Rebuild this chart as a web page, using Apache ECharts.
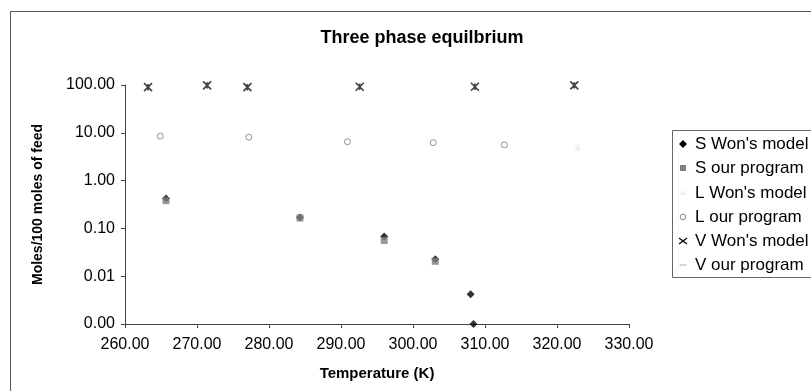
<!DOCTYPE html>
<html><head><meta charset="utf-8">
<script src="https://cdn.jsdelivr.net/npm/echarts@6/dist/echarts.min.js"></script>
<style>html,body{margin:0;padding:0;background:#fff;}#c{width:811px;height:391px;}</style>
</head><body><div id="c"></div>
<script>
var xTicks = [260, 270, 280, 290, 300, 310, 320, 330];
var yTicks = [0.001, 0.01, 0.1, 1, 10, 100];
var seriesNames = ["S Won's model", 'S our program', "L Won's model", 'L our program', "V Won's model", 'V our program'];
var sWon = [[265.7, 0.42], [284.3, 0.17], [296.0, 0.068], [303.1, 0.0226], [308.0, 0.0042], [308.4, 0.001]];
var sOur = [[265.7, 0.38], [284.3, 0.165], [296.0, 0.056], [303.1, 0.0205]];
var lWon = [[322.9, 5.0]];
var lOur = [[264.9, 8.5], [277.2, 8.1], [290.9, 6.5], [302.8, 6.2], [312.7, 5.6]];
var vWon = [[263.2, 90], [271.4, 98], [277.0, 90], [292.6, 92], [308.6, 92], [322.4, 98]];
var vOur = [[263.2, 90], [271.4, 98], [277.0, 90], [292.6, 92], [308.6, 92], [322.4, 98]];

var star = 'path://M0,0L10,10M10,0L0,10M5,1L5,9';
var dash = 'path://M0,5L10,5';
var font = 'Liberation Sans, Arial, sans-serif';

// legend drawn as graphic elements
var legX = 683, legText = 695, legY = [144, 168, 193, 217, 241, 265];
var legendGraphics = [
  {type: 'rect', shape: {x: 672.5, y: 130.5, width: 200, height: 147}, style: {fill: '#fff', stroke: '#666', lineWidth: 1}, z: 1},
  {type: 'polygon', shape: {points: [[legX, legY[0] - 4], [legX + 4, legY[0]], [legX, legY[0] + 4], [legX - 4, legY[0]]]}, style: {fill: '#000'}, z: 2},
  {type: 'rect', shape: {x: legX - 3, y: legY[1] - 3, width: 6, height: 6}, style: {fill: '#808080'}, z: 2},
  {type: 'polygon', shape: {points: [[legX, legY[2] - 3], [legX + 3, legY[2] + 2], [legX - 3, legY[2] + 2]]}, style: {fill: '#ececec'}, z: 2},
  {type: 'circle', shape: {cx: legX, cy: legY[3], r: 2.8}, style: {fill: '#fff', stroke: '#888', lineWidth: 1}, z: 2},
  {type: 'polyline', shape: {points: [[legX - 4, legY[4] - 3], [legX + 4, legY[4] + 3]]}, style: {stroke: '#111', lineWidth: 1.5}, z: 2},
  {type: 'polyline', shape: {points: [[legX + 4, legY[4] - 3], [legX - 4, legY[4] + 3]]}, style: {stroke: '#111', lineWidth: 1.5}, z: 2},
  {type: 'polyline', shape: {points: [[legX - 3.5, legY[5]], [legX + 3.5, legY[5]]]}, style: {stroke: '#aaa', lineWidth: 1}, z: 2}
];
seriesNames.forEach(function (n, i) {
  legendGraphics.push({type: 'text', x: legText, y: legY[i], style: {text: n, font: '17px ' + font, fill: '#000', textVerticalAlign: 'middle', verticalAlign: 'middle'}, z: 2});
});

var chart = echarts.init(document.getElementById('c'));
chart.setOption({
  animation: false,
  backgroundColor: '#fff',
  textStyle: {fontFamily: font, color: '#000'},
  title: {text: 'Three phase equilbrium', left: 417, top: 24, textAlign: 'center',
    textStyle: {fontFamily: font, fontSize: 18, fontWeight: 'bold', color: '#000'}},
  graphic: [{type: 'rect', shape: {x: 10.5, y: 11.5, width: 820, height: 400}, style: {fill: 'none', stroke: '#555', lineWidth: 1}, z: -1}].concat(legendGraphics),
  grid: {left: 125, right: 182, top: 85, bottom: 67},
  xAxis: {
    type: 'value', min: 260, max: 330, interval: 10,
    name: 'Temperature (K)', nameLocation: 'middle', nameGap: 42,
    nameTextStyle: {fontFamily: font, fontSize: 15, fontWeight: 'bold', color: '#000'},
    axisLine: {lineStyle: {color: '#444'}},
    axisTick: {show: true, length: 4, lineStyle: {color: '#444'}},
    axisLabel: {fontFamily: font, fontSize: 16, color: '#000', margin: 13, formatter: function (v) { return v.toFixed(2); }},
    splitLine: {show: false}
  },
  yAxis: {
    type: 'log', logBase: 10, min: 0.001, max: 100,
    name: 'Moles/100 moles of feed', nameLocation: 'middle', nameGap: 80,
    nameTextStyle: {fontFamily: font, fontSize: 14, fontWeight: 'bold', color: '#000'},
    axisLine: {show: true, lineStyle: {color: '#444'}},
    axisTick: {show: true, length: 4, lineStyle: {color: '#444'}},
    axisLabel: {fontFamily: font, fontSize: 16, color: '#000', margin: 10, formatter: function (v) { return Number(v).toFixed(2); }},
    splitLine: {show: false}
  },
  series: [
    {name: seriesNames[0], type: 'scatter', data: sWon, symbol: 'diamond', symbolSize: 8, itemStyle: {color: '#000'}, z: 2},
    {name: seriesNames[1], type: 'scatter', data: sOur, symbol: 'rect', symbolSize: 7, itemStyle: {color: '#808080'}, z: 3},
    {name: seriesNames[2], type: 'scatter', data: lWon, symbol: 'triangle', symbolSize: 7, itemStyle: {color: '#ececec'}, z: 2},
    {name: seriesNames[3], type: 'scatter', data: lOur, symbol: 'circle', symbolSize: 6, itemStyle: {color: '#fff', borderColor: '#777', borderWidth: 1}, z: 3},
    {name: seriesNames[4], type: 'scatter', data: vWon, symbol: star, symbolSize: 8, itemStyle: {color: 'none', borderColor: '#111', borderWidth: 1.6}, z: 3},
    {name: seriesNames[5], type: 'scatter', data: vOur, symbol: dash, symbolSize: [7, 7], itemStyle: {color: 'none', borderColor: '#bbb', borderWidth: 1}, z: 2}
  ]
});
</script></body></html>
